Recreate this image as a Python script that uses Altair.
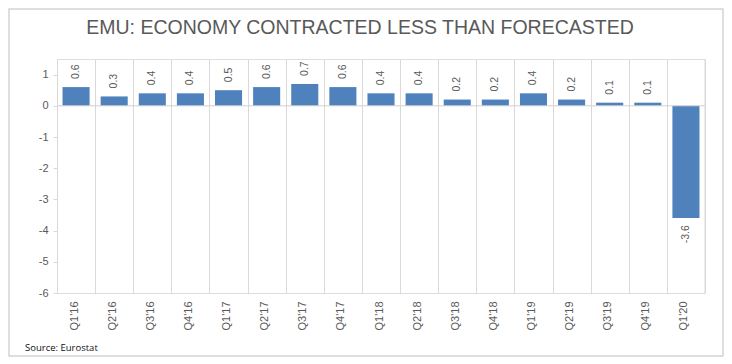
import altair as alt
import pandas as pd

quarters = ["Q1'16", "Q2'16", "Q3'16", "Q4'16", "Q1'17", "Q2'17", "Q3'17", "Q4'17",
            "Q1'18", "Q2'18", "Q3'18", "Q4'18", "Q1'19", "Q2'19", "Q3'19", "Q4'19", "Q1'20"]
values = [0.6, 0.3, 0.4, 0.4, 0.5, 0.6, 0.7, 0.6, 0.4, 0.4, 0.2, 0.2, 0.4, 0.2, 0.1, 0.1, -3.6]
y_ticks = [-6, -5, -4, -3, -2, -1, 0, 1]
title_text = "EMU: ECONOMY CONTRACTED LESS THAN FORECASTED"
source_text = "Source: Eurostat"

df = pd.DataFrame({"q": quarters, "v": values})
one = alt.Data(values=[{"a": 1}])

W, H = 648, 234
step = W / len(quarters)
FONT = "Liberation Sans"
GREY = "#595959"
LINE = "#d9d9d9"

x_axis = alt.Axis(grid=True, gridColor=LINE, gridWidth=1, ticks=False, domain=False,
                  labelAngle=-90, labelPadding=8, labelFontSize=11, labelColor=GREY,
                  labelFont=FONT, bandPosition=0.5, tickOffset=-step / 2,
                  labelOffset=step / 2 - 2)
x_scale = alt.Scale(paddingInner=0.29, paddingOuter=0.145)
y_axis = alt.Axis(values=y_ticks, grid=False, domain=False, tickColor=LINE, tickSize=4,
                  labelPadding=5, labelFontSize=11, labelColor=GREY, labelFont=FONT,
                  labelOverlap=False, labelExpr="'' + datum.value")
y_scale = alt.Scale(domain=[-6, 1.5], nice=False, zero=False)

x_enc = alt.X("q:N", sort=quarters, title=None, scale=x_scale, axis=x_axis)
y_enc = alt.Y("v:Q", title=None, scale=y_scale, axis=y_axis)

base = alt.Chart(df).transform_calculate(
    lab="replace(format(datum.v, '.1f'), '\u2212', '-')")

border = alt.Chart(one).mark_rect(fill="white", fillOpacity=0, stroke="#d4d4d4",
                                  strokeWidth=1.5, clip=False).encode(
    x=alt.value(-48), x2=alt.value(666), y=alt.value(-50), y2=alt.value(297))

bars = base.mark_bar(color="#4F81BD").encode(x=x_enc, y=y_enc)

zero = alt.Chart(one).mark_rule(color="#d0d0d0", strokeWidth=1).encode(
    y=alt.YDatum(0, scale=y_scale, axis=y_axis, title=None))

right_edge = alt.Chart(one).mark_rule(color=LINE, strokeWidth=1).encode(
    x=alt.value(W), y=alt.value(0), y2=alt.value(H))

pos_labels = base.transform_filter("datum.v >= 0").mark_text(
    angle=270, align="left", baseline="middle", font=FONT, fontSize=10.5, color=GREY
).encode(x=x_enc, y=y_enc, text="lab:N", yOffset=alt.value(-8))

neg_labels = base.transform_filter("datum.v < 0").mark_text(
    angle=270, align="right", baseline="middle", font=FONT, fontSize=10.5, color=GREY
).encode(x=x_enc, y=y_enc, text="lab:N", yOffset=alt.value(7))

title = alt.Chart(one).mark_text(
    align="center", baseline="alphabetic", font=FONT, fontSize=19.5, color=GREY
).encode(x=alt.value(303), y=alt.value(-25), text=alt.value(title_text))

source = alt.Chart(one).mark_text(
    align="left", baseline="middle", font="Open Sans", fontSize=9.5, color="#111111"
).encode(x=alt.value(-32), y=alt.value(289), text=alt.value(source_text))

chart = alt.layer(border, bars, zero, right_edge, pos_labels, neg_labels, title, source).properties(
    width=W, height=H, padding=0
).configure_view(stroke=None).configure(background="white")

chart.save("out.html", embed_options={"renderer": "svg", "actions": False})
